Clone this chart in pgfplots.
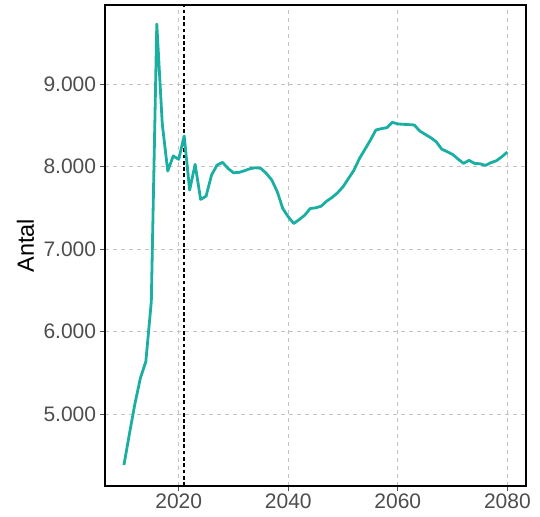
\documentclass[border=0pt]{standalone}
\usepackage{fontspec}
\setmainfont{Liberation Sans}
\usepackage{pgfplots}
\pgfplotsset{compat=1.18}
\definecolor{teal1}{RGB}{26,175,162}
\definecolor{tickgrey}{RGB}{77,77,77}
\definecolor{gridgrey}{RGB}{195,195,195}
\begin{document}
\begin{tikzpicture}
\path[use as bounding box] (-105.3bp,-31bp) rectangle (434.7bp,486bp);
\begin{axis}[
  scale only axis, width=420.7bp, height=480.7bp,
  xmin=2006.6, xmax=2083.4, ymin=4126, ymax=9959,
  xtick={2020,2040,2060,2080}, xticklabels={2020,2040,2060,2080},
  ytick={5000,6000,7000,8000,9000}, yticklabels={5.000,6.000,7.000,8.000,9.000},
  grid=major,
  major grid style={gridgrey, dash pattern=on 4bp off 4bp, line width=0.8bp},
  axis line style={black, line width=2bp},
  tick align=outside, tick pos=left, major tick length=5.5bp,
  tick style={tickgrey, line width=0.8bp},
  ticklabel style={font=\fontsize{21bp}{23bp}\selectfont, text=tickgrey},
  xticklabel style={inner sep=2.5bp},
  yticklabel style={inner sep=3.5bp},
  ylabel={Antal},
  ylabel style={font=\fontsize{23.5bp}{25bp}\selectfont, at={(axis description cs:-0.19,0.5)}, anchor=center},
  clip=false,
]
\addplot[black, line width=1.5bp, dash pattern=on 3.8bp off 2.5bp] coordinates {(2021,4126) (2021,9959)};
\addplot[teal1, line width=2.8bp, line join=round] table {
x y
2010 4380
2011 4757
2012 5122
2013 5434
2014 5636
2015 6366
2016 9732
2017 8520
2018 7948
2019 8131
2020 8090
2021 8374
2022 7717
2023 8029
2024 7603
2025 7643
2026 7900
2027 8020
2028 8053
2029 7980
2030 7927
2031 7931
2032 7951
2033 7976
2034 7988
2035 7980
2036 7919
2037 7838
2038 7696
2039 7493
2040 7392
2041 7311
2042 7359
2043 7412
2044 7493
2045 7501
2046 7521
2047 7582
2048 7627
2049 7684
2050 7757
2051 7858
2052 7959
2053 8101
2054 8211
2055 8324
2056 8446
2057 8462
2058 8474
2059 8539
2060 8519
2061 8515
2062 8511
2063 8507
2064 8434
2065 8393
2066 8353
2067 8304
2068 8215
2069 8182
2070 8150
2071 8093
2072 8041
2073 8077
2074 8041
2075 8036
2076 8016
2077 8049
2078 8073
2079 8122
2080 8178
};
\end{axis}
\end{tikzpicture}
\end{document}
